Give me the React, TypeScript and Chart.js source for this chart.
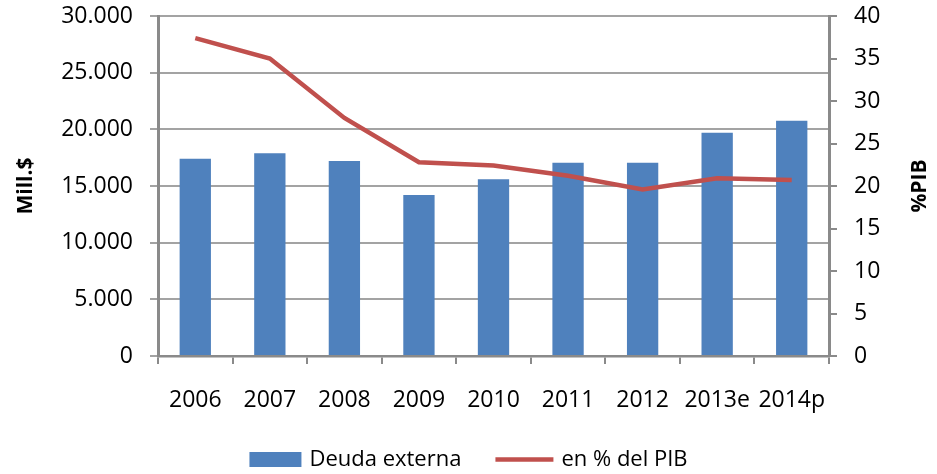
import React, { useEffect, useRef } from "react";
import { Chart, registerables } from "chart.js";

Chart.register(...registerables);

const categories = ["2006", "2007", "2008", "2009", "2010", "2011", "2012", "2013e", "2014p"];
const deudaExterna = [17400, 17900, 17200, 14200, 15600, 17050, 17050, 19700, 20750];
const pctPIB = [37.4, 35.0, 28.0, 22.8, 22.4, 21.2, 19.6, 20.9, 20.7];
const leftTitle = "Mill.$";
const rightTitle = "%PIB";
const barLabel = "Deuda externa";
const lineLabel = "en % del PIB";

const FONT = "'Open Sans', 'Liberation Sans', sans-serif";
const BAR_COLOR = "#4F81BD";
const LINE_COLOR = "#C0504D";
const GRID_COLOR = "#A3A3A3";
const AXIS_COLOR = "#8A8A8A";

function fmtThousands(v: number): string {
  return String(v).replace(/\B(?=(\d{3})+(?!\d))/g, ".");
}

const extrasPlugin = {
  id: "extras",
  afterDraw(chart: any) {
    const { ctx, chartArea, width } = chart;
    // right axis title, reading bottom-to-top
    ctx.save();
    ctx.font = `bold 21px ${FONT}`;
    ctx.fillStyle = "#000";
    ctx.textAlign = "center";
    ctx.textBaseline = "middle";
    ctx.translate(920, (chartArea.top + chartArea.bottom) / 2);
    ctx.rotate(-Math.PI / 2);
    ctx.fillText(rightTitle, 0, 0);
    ctx.restore();

    // legend
    const ds = chart.data.datasets;
    const barDs = ds.find((d: any) => d.type === "bar");
    const lineDs = ds.find((d: any) => d.type === "line");
    ctx.save();
    ctx.font = `22px ${FONT}`;
    ctx.textBaseline = "middle";
    ctx.textAlign = "left";
    const swatchW = 52;
    const lineW = 58;
    const gapText = 8;
    const gapItem = 34;
    const w1 = ctx.measureText(barDs.label).width;
    const w2 = ctx.measureText(lineDs.label).width;
    const total = swatchW + gapText + w1 + gapItem + lineW + gapText + w2;
    let x = width / 2 - total / 2;
    const cy = 459.5;
    ctx.fillStyle = barDs.backgroundColor;
    ctx.fillRect(x, cy - 7.5, swatchW, 15);
    x += swatchW + gapText;
    ctx.fillStyle = "#000";
    ctx.fillText(barDs.label, x, cy);
    x += w1 + gapItem;
    ctx.strokeStyle = lineDs.borderColor;
    ctx.lineWidth = 4.5;
    ctx.beginPath();
    ctx.moveTo(x, cy);
    ctx.lineTo(x + lineW, cy);
    ctx.stroke();
    x += lineW + gapText;
    ctx.fillStyle = "#000";
    ctx.fillText(lineDs.label, x, cy);
    ctx.restore();
  },
};

export default function App() {
  const canvasRef = useRef<HTMLCanvasElement | null>(null);

  useEffect(() => {
    const canvas = canvasRef.current;
    if (!canvas) return;
    const chart = new Chart(canvas, {
      type: "bar",
      data: {
        labels: categories,
        datasets: [
          {
            type: "line",
            label: lineLabel,
            data: pctPIB,
            yAxisID: "y2",
            borderColor: LINE_COLOR,
            backgroundColor: LINE_COLOR,
            borderWidth: 4.5,
            pointRadius: 0,
            pointHoverRadius: 0,
            tension: 0,
            order: 0,
          } as any,
          {
            type: "bar",
            label: barLabel,
            data: deudaExterna,
            yAxisID: "y",
            backgroundColor: BAR_COLOR,
            borderWidth: 0,
            categoryPercentage: 1,
            barPercentage: 0.42,
            order: 1,
          } as any,
        ],
      },
      plugins: [extrasPlugin],
      options: {
        animation: false,
        responsive: false,
        maintainAspectRatio: false,
        layout: { padding: { top: 16, left: 0, right: 0, bottom: 58 } },
        plugins: {
          tooltip: { enabled: false },
          legend: { display: false },
        },
        scales: {
          x: {
            offset: true,
            grid: {
              offset: true,
              drawOnChartArea: false,
              drawTicks: true,
              tickLength: 8,
              color: AXIS_COLOR,
              lineWidth: 2,
            },
            border: { color: AXIS_COLOR, width: 2.5 },
            ticks: {
              color: "#000",
              font: { family: FONT, size: 23 },
              padding: 23,
              maxRotation: 0,
              autoSkip: false,
            },
            afterFit: (s: any) => {
              s.height = 60;
              s.paddingLeft = 0;
              s.paddingRight = 0;
            },
          },
          y: {
            position: "left",
            min: 0,
            max: 30000,
            afterFit: (s: any) => {
              s.width = 158;
              s.paddingTop = 0;
              s.paddingBottom = 0;
            },
            ticks: {
              stepSize: 5000,
              color: "#000",
              font: { family: FONT, size: 23 },
              padding: 17,
              callback: (v: any) => fmtThousands(Number(v)),
            },
            grid: {
              color: GRID_COLOR,
              lineWidth: 2,
              tickLength: 8,
              drawTicks: true,
            },
            border: { color: AXIS_COLOR, width: 3 },
            title: {
              display: true,
              text: leftTitle,
              color: "#000",
              font: { family: FONT, size: 21, weight: "bold" },
              padding: { top: 13, bottom: 0 },
            },
          },
          y2: {
            position: "right",
            min: 0,
            max: 40,
            afterFit: (s: any) => {
              s.width = 108;
              s.paddingTop = 0;
              s.paddingBottom = 0;
            },
            ticks: {
              stepSize: 5,
              color: "#000",
              font: { family: FONT, size: 23 },
              padding: 17,
            },
            grid: {
              drawOnChartArea: false,
              drawTicks: true,
              tickLength: 8,
              color: AXIS_COLOR,
              lineWidth: 2,
            },
            border: { color: AXIS_COLOR, width: 3 },
            title: { display: false },
          },
        },
      } as any,
    });
    return () => chart.destroy();
  }, []);

  return (
    <div style={{ position: "fixed", left: 0, top: 0, width: 937, height: 474, background: "#fff" }}>
      <canvas ref={canvasRef} width={937} height={474} style={{ width: 937, height: 474, display: "block" }} />
    </div>
  );
}
